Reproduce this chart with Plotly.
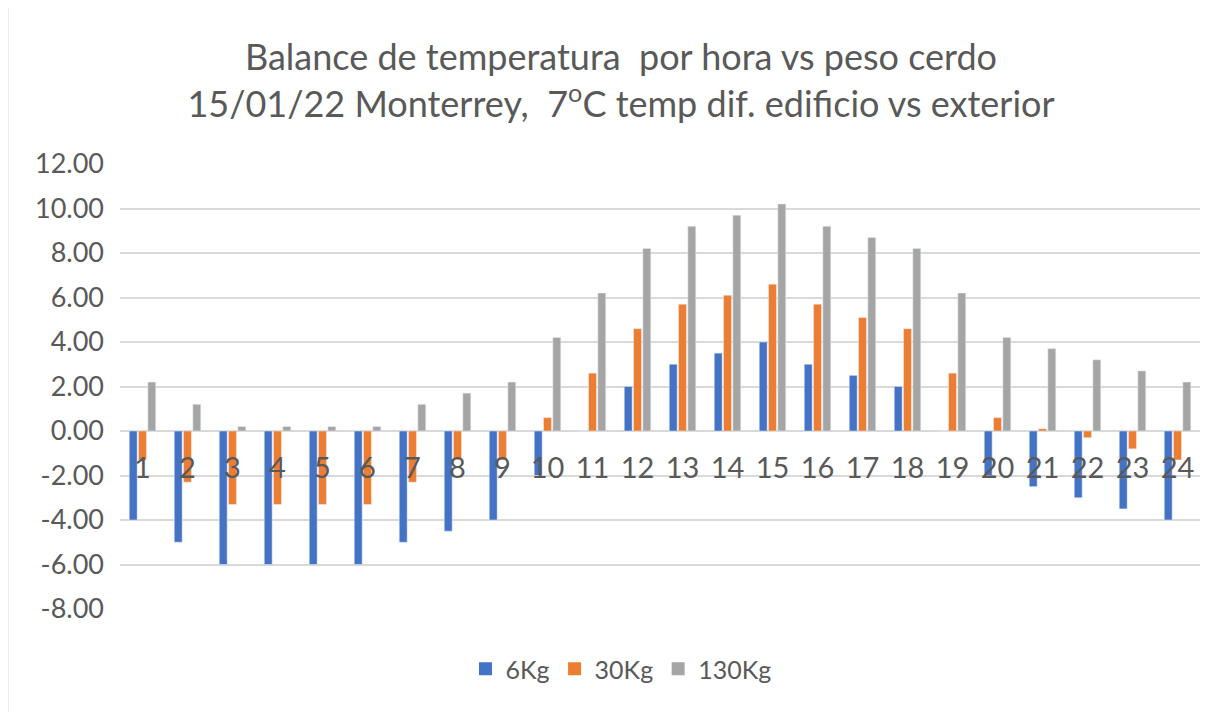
import plotly.graph_objects as go

# Datos
horas = [str(h) for h in range(1, 25)]
kg6 = [-4.0, -5.0, -6.0, -6.0, -6.0, -6.0, -5.0, -4.5, -4.0, -2.0, 0.0, 2.0,
       3.0, 3.5, 4.0, 3.0, 2.5, 2.0, 0.0, -2.0, -2.5, -3.0, -3.5, -4.0]
kg30 = [-1.3, -2.3, -3.3, -3.3, -3.3, -3.3, -2.3, -1.3, -1.3, 0.6, 2.6, 4.6,
        5.7, 6.1, 6.6, 5.7, 5.1, 4.6, 2.6, 0.6, 0.1, -0.3, -0.8, -1.3]
kg130 = [2.2, 1.2, 0.2, 0.2, 0.2, 0.2, 1.2, 1.7, 2.2, 4.2, 6.2, 8.2,
         9.2, 9.7, 10.2, 9.2, 8.7, 8.2, 6.2, 4.2, 3.7, 3.2, 2.7, 2.2]
series = ["6Kg", "30Kg", "130Kg"]
colores = ["#4472C4", "#ED7D31", "#A5A5A5"]
ytick_vals = [-8, -6, -4, -2, 0, 2, 4, 6, 8, 10, 12]
ytick_text = [f"{v:.2f}" for v in ytick_vals]

text_color = "#595959"
grid_color = "#D9D9D9"
font_family = "Lato, 'Noto Sans', sans-serif"

fig = go.Figure()
for nombre, valores, color in zip(series, [kg6, kg30, kg130], colores):
    fig.add_trace(go.Bar(x=horas, y=valores, name=nombre, marker_color=color,
                         showlegend=False))
# entradas de leyenda con cuadros mas grandes
for nombre, color in zip(series, colores):
    fig.add_trace(go.Scatter(x=[None], y=[None], mode="markers", name=nombre,
                             marker=dict(symbol="square", size=13, color=color)))

# la pagina tiene 8px de margen en el body
off = 8
W, H = 1221 - off, 712 - off
ml, mr, mt, mb = 120 - off, 21, 164 - off, 103
pw, ph = W - ml - mr, H - mt - mb

# borde gris del area del grafico
fig.add_shape(type="rect", xref="paper", yref="paper",
              x0=(7 - off - ml) / pw, x1=(W + 20 - ml) / pw,
              y0=-(mb + 20) / ph, y1=(H - mb - (5 - off)) / ph,
              line=dict(color=grid_color, width=3), layer="below")

fig.update_layout(
    width=W, height=H,
    margin=dict(l=ml, r=mr, t=mt, b=mb, autoexpand=False),
    paper_bgcolor="white", plot_bgcolor="white",
    font=dict(family=font_family, color=text_color, size=25),
    title=dict(
        text="Balance de temperatura  por hora vs peso cerdo<br>"
             "15/01/22 Monterrey,  7<sup>o</sup>C temp dif. edificio vs exterior",
        x=(621 - off) / W, xanchor="center", xref="container",
        y=1 - 62 / H, yanchor="top", yref="container",
        font=dict(size=36, color=text_color, family=font_family),
    ),
    barmode="group", bargap=0.38, bargroupgap=0.15,
    showlegend=True,
    legend=dict(orientation="h", x=(621 - 120) / pw, xanchor="center",
                y=-(669 - 609) / ph, yanchor="middle",
                font=dict(size=25, color=text_color),
                itemwidth=30, traceorder="normal"),
)

fig.update_yaxes(range=[-8, 12], tickvals=ytick_vals, ticktext=ytick_text,
                 showgrid=True, gridcolor=grid_color, gridwidth=1.5,
                 zeroline=True, zerolinecolor=grid_color, zerolinewidth=1.5,
                 showline=False, ticks="", ticklabelstandoff=15,
                 automargin=False, tickfont=dict(size=27, color=text_color))
fig.update_xaxes(type="category", anchor="free", position=8 / 20,
                 showgrid=False, showline=False, ticks="", automargin=False,
                 tickfont=dict(size=29, color=text_color),
                 ticklabelstandoff=17)

fig.write_html("out.html")
